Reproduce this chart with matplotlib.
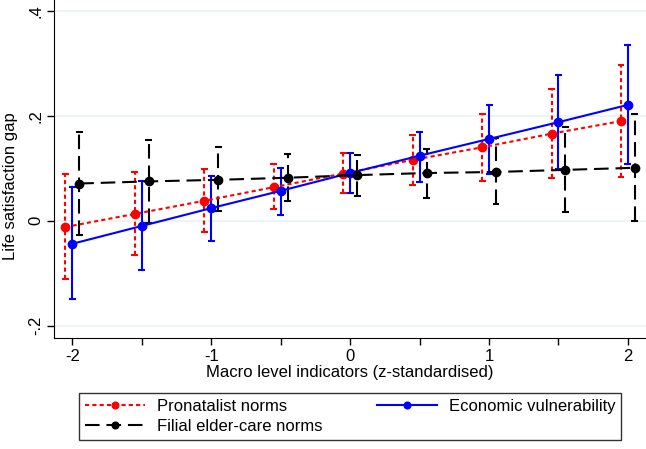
import numpy as np
import matplotlib
matplotlib.use("Agg")
from matplotlib import pyplot as plt

plt.rcParams['font.family'] = ['Liberation Sans', 'DejaVu Sans']

# z-standardised macro level indicator values
z = [-2, -1.5, -1, -0.5, 0, 0.5, 1, 1.5, 2]

# Pronatalist norms
pron = [-0.012, 0.013, 0.038, 0.064, 0.090, 0.116, 0.140, 0.166, 0.190]
pron_lo = [-0.112, -0.066, -0.021, 0.022, 0.052, 0.069, 0.076, 0.082, 0.084]
pron_hi = [0.090, 0.093, 0.099, 0.108, 0.129, 0.164, 0.204, 0.251, 0.297]

# Economic vulnerability
econ = [-0.044, -0.010, 0.024, 0.057, 0.091, 0.124, 0.156, 0.188, 0.221]
econ_lo = [-0.150, -0.094, -0.038, 0.010, 0.052, 0.074, 0.090, 0.098, 0.108]
econ_hi = [0.065, 0.075, 0.086, 0.101, 0.129, 0.170, 0.221, 0.277, 0.335]

# Filial elder-care norms
fil = [0.071, 0.075, 0.078, 0.082, 0.087, 0.091, 0.093, 0.097, 0.101]
fil_lo = [-0.028, -0.005, 0.019, 0.038, 0.048, 0.044, 0.032, 0.017, 0.000]
fil_hi = [0.170, 0.154, 0.140, 0.128, 0.126, 0.137, 0.158, 0.179, 0.204]

FS = 12
LW = 1.5


def draw_series(ax, x, y, lo, hi, color, label, dashes=None):
    x = np.asarray(x)
    # confidence bars with caps
    for xi, l, h in zip(x, lo, hi):
        bar, = ax.plot([xi, xi], [l, h], color=color, lw=LW, zorder=2)
        if dashes is not None:
            bar.set_dashes(dashes)
        for v in (l, h):
            ax.plot([xi - 0.025, xi + 0.025], [v, v], color=color, lw=LW,
                    zorder=2, solid_capstyle='butt')
    line, = ax.plot(x, y, color=color, lw=LW, marker='o', ms=6,
                    label=label, zorder=3)
    if dashes is not None:
        line.set_dashes(dashes)
    return line


fig = plt.figure(figsize=(6.46, 4.49), dpi=100)
ax = fig.add_axes([0.084, 0.248, 0.916, 0.752])

x = np.asarray(z)
h1 = draw_series(ax, x - 0.05, pron, pron_lo, pron_hi, '#ff0000',
                 'Pronatalist norms', dashes=(2.0, 1.5))
h2 = draw_series(ax, x, econ, econ_lo, econ_hi, '#0000ff',
                 'Economic vulnerability')
h3 = draw_series(ax, x + 0.05, fil, fil_lo, fil_hi, '#000000',
                 'Filial elder-care norms', dashes=(7, 3.3))

ax.set_xlim(-2.13, 2.13)
ax.set_ylim(-0.223, 0.421)

ax.set_yticks([-0.2, 0, 0.2, 0.4])
ax.set_yticklabels(['-.2', '0', '.2', '.4'], rotation=90, va='center',
                   fontsize=FS)
ax.set_xticks(np.arange(-2, 2.01, 0.5))
ax.set_xticklabels(['-2', '', '-1', '', '0', '', '1', '', '2'], fontsize=FS)
ax.tick_params(length=5, width=1, pad=3)
ax.grid(axis='y', color='#eaf2f3', lw=1.2)
ax.set_axisbelow(True)
for s in ['top', 'right']:
    ax.spines[s].set_visible(False)

ax.set_xlabel('Macro level indicators (z-standardised)', fontsize=FS,
              labelpad=1)
ax.set_ylabel('Life satisfaction gap', fontsize=FS)
ax.yaxis.set_label_coords(-0.062, 0.45)

leg = fig.legend(handles=[h1, h3, h2], ncol=2, loc='lower center',
                 bbox_to_anchor=(0.542, 0.002), fontsize=FS, frameon=True,
                 fancybox=False, edgecolor='black', handlelength=3.6,
                 handletextpad=0.7, columnspacing=3.3, borderpad=0.35,
                 labelspacing=0.3, markerscale=0.8)
leg.get_frame().set_linewidth(1.0)

fig.savefig('out.png', dpi=100)
